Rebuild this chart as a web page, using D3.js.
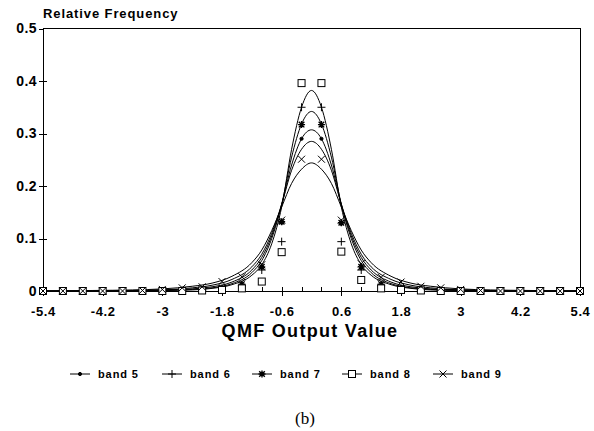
<!DOCTYPE html>
<html lang="en">
<head>
  <meta charset="UTF-8">
  <title>QMF Output Value - Relative Frequency</title>
  <script src="https://d3js.org/d3.v7.min.js"></script>
  <style>
    body { margin: 0; background: #fff; font-family: "Liberation Sans", Arial, sans-serif; }
    svg text { fill: #000; }
    .axis path, .axis line { stroke: #000; stroke-width: 1; shape-rendering: crispEdges; }
  </style>
</head>
<body>
  <div id="chart"></div>
  <script>
    // tick labels
    const xTicks = [-5.4, -4.2, -3, -1.8, -0.6, 0.6, 1.8, 3, 4.2, 5.4];
    const xMinorTicks = [-5.4, -5.0, -4.6, -4.2, -3.8, -3.4, -3.0, -2.6, -2.2, -1.8, -1.4, -1.0, -0.6, -0.2,
                         0.2, 0.6, 1.0, 1.4, 1.8, 2.2, 2.6, 3.0, 3.4, 3.8, 4.2, 4.6, 5.0, 5.4];
    const yTicks = [0, 0.1, 0.2, 0.3, 0.4, 0.5];

    // measured points (one per band)
    const pointX = [-5.4, -5.0, -4.6, -4.2, -3.8, -3.4, -3.0, -2.6, -2.2, -1.8, -1.4, -1.0, -0.6, -0.2,
                    0.2, 0.6, 1.0, 1.4, 1.8, 2.2, 2.6, 3.0, 3.4, 3.8, 4.2, 4.6, 5.0, 5.4];
    const band5 = [0, 0, 0, 0, 0, 0, 0, 0.001, 0.002, 0.004, 0.011, 0.045, 0.130, 0.290,
                   0.290, 0.128, 0.044, 0.011, 0.004, 0.002, 0.001, 0, 0, 0, 0, 0, 0, 0];
    const band6 = [0, 0, 0, 0, 0, 0, 0, 0.001, 0.002, 0.004, 0.010, 0.040, 0.094, 0.350,
                   0.350, 0.094, 0.040, 0.010, 0.004, 0.002, 0.001, 0, 0, 0, 0, 0, 0, 0];
    const band7 = [0, 0, 0, 0, 0, 0, 0, 0.001, 0.002, 0.005, 0.013, 0.046, 0.132, 0.317,
                   0.317, 0.130, 0.046, 0.013, 0.005, 0.002, 0.001, 0, 0, 0, 0, 0, 0, 0];
    const band8 = [0, 0, 0, 0, 0, 0, 0, 0, 0.001, 0.002, 0.005, 0.018, 0.074, 0.396,
                   0.396, 0.075, 0.021, 0.005, 0.002, 0.001, 0, 0, 0, 0, 0, 0, 0, 0];
    const band9 = [0, 0, 0, 0, 0, 0.001, 0.003, 0.006, 0.008, 0.018, 0.027, 0.050, 0.135, 0.251,
                   0.251, 0.135, 0.052, 0.026, 0.017, 0.009, 0.006, 0.003, 0.001, 0, 0, 0, 0, 0];

    // fitted curves
    const curveX = [-5.4, -4.4, -3.6, -3.0, -2.4, -2.0, -1.6, -1.2, -1.0, -0.8, -0.6, -0.4, -0.2, 0,
                    0.2, 0.4, 0.6, 0.8, 1.0, 1.2, 1.6, 2.0, 2.4, 3.0, 3.6, 4.4, 5.4];
    const fit6 = [0, 0, 0, 0.001, 0.002, 0.005, 0.012, 0.030, 0.050, 0.090, 0.160, 0.270, 0.350, 0.382,
                  0.350, 0.270, 0.160, 0.090, 0.050, 0.030, 0.012, 0.005, 0.002, 0.001, 0, 0, 0];
    const fit7 = [0, 0, 0, 0.001, 0.003, 0.006, 0.014, 0.035, 0.058, 0.100, 0.165, 0.255, 0.318, 0.342,
                  0.318, 0.255, 0.165, 0.100, 0.058, 0.035, 0.014, 0.006, 0.003, 0.001, 0, 0, 0];
    const fit5 = [0, 0, 0.001, 0.002, 0.004, 0.008, 0.017, 0.040, 0.064, 0.105, 0.165, 0.240, 0.290, 0.307,
                  0.290, 0.240, 0.165, 0.105, 0.064, 0.040, 0.017, 0.008, 0.004, 0.002, 0.001, 0, 0];
    const fit9 = [0, 0, 0.001, 0.002, 0.006, 0.011, 0.022, 0.046, 0.070, 0.110, 0.165, 0.230, 0.270, 0.285,
                  0.270, 0.230, 0.165, 0.110, 0.070, 0.046, 0.022, 0.011, 0.006, 0.002, 0.001, 0, 0];
    const fit8 = [0, 0.001, 0.002, 0.004, 0.009, 0.015, 0.028, 0.054, 0.078, 0.115, 0.160, 0.205, 0.232, 0.244,
                  0.232, 0.205, 0.160, 0.115, 0.078, 0.054, 0.028, 0.015, 0.009, 0.004, 0.002, 0.001, 0];

    const bands = [
      { name: "band 5", marker: "dot", points: band5, fit: fit5 },
      { name: "band 6", marker: "plus", points: band6, fit: fit6 },
      { name: "band 7", marker: "star", points: band7, fit: fit7 },
      { name: "band 8", marker: "square", points: band8, fit: fit8 },
      { name: "band 9", marker: "cross", points: band9, fit: fit9 }
    ];
    const legendX = [70, 162, 252, 342, 433];

    const W = 594, H = 431;
    const plot = { left: 43, right: 580, top: 28.5, bottom: 291 };

    const svg = d3.select("#chart").append("svg")
      .attr("width", W)
      .attr("height", H);

    const x = d3.scaleLinear().domain([-5.4, 5.4]).range([plot.left, plot.right]);
    const y = d3.scaleLinear().domain([0, 0.5]).range([plot.bottom, plot.top]);

    // frame (top and right border)
    svg.append("path")
      .attr("d", `M${plot.left},${y(0.5)}H${plot.right}V${plot.bottom}`)
      .attr("fill", "none")
      .attr("stroke", "#000")
      .attr("stroke-width", 1)
      .attr("shape-rendering", "crispEdges");

    // x axis: labels with crossing major ticks, small upward minor ticks
    svg.append("g")
      .attr("class", "axis")
      .attr("transform", `translate(0,${plot.bottom})`)
      .call(d3.axisBottom(x).tickValues(xTicks).tickSize(5).tickPadding(11)
        .tickFormat(d => String(+d.toFixed(1))))
      .call(g => g.select(".domain").remove())
      .selectAll("text")
      .style("font-size", "13px")
      .style("font-weight", "bold")
      .style("letter-spacing", "0.6px");

    svg.append("g")
      .attr("class", "axis")
      .attr("transform", `translate(0,${plot.bottom})`)
      .call(d3.axisBottom(x).tickValues(xMinorTicks).tickSize(-4).tickSizeOuter(0).tickFormat(""));

    // y axis
    svg.append("g")
      .attr("class", "axis")
      .attr("transform", `translate(${plot.left},0)`)
      .call(d3.axisLeft(y).tickValues(yTicks).tickSize(4).tickSizeOuter(0).tickPadding(2)
        .tickFormat(d => d === 0 ? "0" : d3.format(".1f")(d)))
      .selectAll("text")
      .style("font-size", "14px")
      .style("font-weight", "bold")
      .style("letter-spacing", "0.4px");

    svg.append("g")
      .attr("class", "axis")
      .attr("transform", `translate(${plot.left},0)`)
      .call(d3.axisLeft(y).tickValues(yTicks.slice(1, 5)).tickSize(-4).tickSizeOuter(0).tickFormat(""))
      .call(g => g.select(".domain").remove());

    // titles
    svg.append("text")
      .attr("x", plot.left)
      .attr("y", 18)
      .style("font-size", "13px")
      .style("font-weight", "bold")
      .style("letter-spacing", "0.9px")
      .text("Relative Frequency");

    svg.append("text")
      .attr("x", 310)
      .attr("y", 337)
      .attr("text-anchor", "middle")
      .style("font-size", "18px")
      .style("font-weight", "bold")
      .style("letter-spacing", "1.3px")
      .text("QMF Output Value");

    svg.append("text")
      .attr("x", 305)
      .attr("y", 424)
      .attr("text-anchor", "middle")
      .style("font-family", "'Liberation Serif', 'DejaVu Serif', serif")
      .style("font-size", "17px")
      .text("(b)");

    // marker glyphs
    function drawMarker(g, type, cx, cy) {
      const s = 3.5;
      if (type === "dot") {
        g.append("circle").attr("cx", cx).attr("cy", cy).attr("r", 1.6).attr("fill", "#000");
      } else if (type === "plus") {
        g.append("path").attr("d", `M${cx - s - 0.5},${cy}H${cx + s + 0.5}M${cx},${cy - s - 0.5}V${cy + s + 0.5}`);
      } else if (type === "cross") {
        g.append("path").attr("d", `M${cx - s},${cy - s}L${cx + s},${cy + s}M${cx - s},${cy + s}L${cx + s},${cy - s}`);
      } else if (type === "star") {
        g.append("path").attr("d", `M${cx - s},${cy}H${cx + s}M${cx},${cy - s}V${cy + s}` +
          `M${cx - s * 0.8},${cy - s * 0.8}L${cx + s * 0.8},${cy + s * 0.8}M${cx - s * 0.8},${cy + s * 0.8}L${cx + s * 0.8},${cy - s * 0.8}`)
          .attr("stroke-width", 1.4);
      } else if (type === "square") {
        g.append("rect").attr("x", cx - s).attr("y", cy - s).attr("width", 2 * s).attr("height", 2 * s)
          .attr("fill", "#fff");
      }
    }

    const line = d3.line()
      .x((d, i) => x(curveX[i]))
      .y(d => y(d))
      .curve(d3.curveMonotoneX);

    const series = svg.append("g")
      .attr("fill", "none")
      .attr("stroke", "#000")
      .attr("stroke-width", 1);

    bands.forEach(b => {
      series.append("path").attr("d", line(b.fit));
    });

    // markers
    bands.forEach(b => {
      const g = series.append("g");
      b.points.forEach((v, i) => drawMarker(g, b.marker, x(pointX[i]), y(v)));
    });

    // legend
    const legend = svg.append("g")
      .attr("transform", "translate(0,374)");
    bands.forEach((b, i) => {
      const g = legend.append("g")
        .attr("fill", "none")
        .attr("stroke", "#000")
        .attr("stroke-width", 1);
      g.append("line")
        .attr("x1", legendX[i]).attr("x2", legendX[i] + 20)
        .attr("y1", 0).attr("y2", 0);
      drawMarker(g, b.marker, legendX[i] + 10, 0);
      legend.append("text")
        .attr("x", legendX[i] + 28)
        .attr("y", 4)
        .style("font-size", "11px")
        .style("font-weight", "bold")
        .style("letter-spacing", "0.9px")
        .text(b.name);
    });
  </script>
</body>
</html>
